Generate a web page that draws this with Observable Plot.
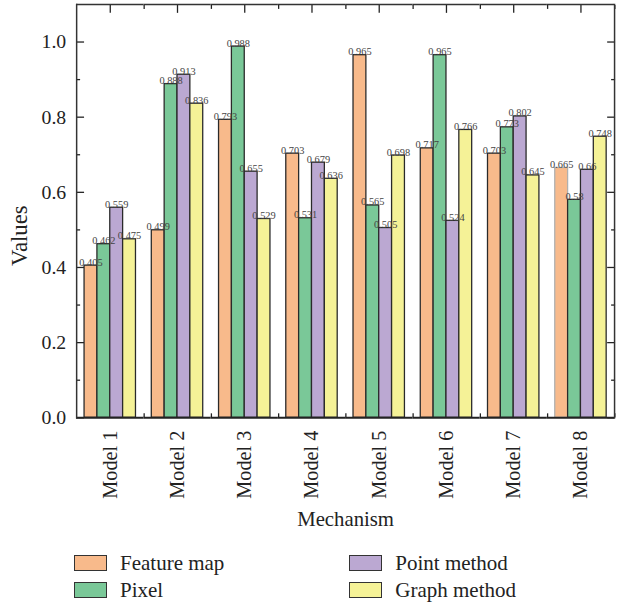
<!DOCTYPE html>
<html>
<head>
<meta charset="utf-8">
<script src="https://cdn.jsdelivr.net/npm/d3@7"></script>
<script src="https://cdn.jsdelivr.net/npm/@observablehq/plot@0.6"></script>
<style>
  html, body { margin: 0; padding: 0; background: #fff; overflow: hidden; }
  #chart { width: 621px; overflow: hidden; }
  #legend {
    display: grid;
    grid-template-rows: 26.7px 26.7px;
    grid-auto-flow: column;
    grid-template-columns: 275.3px 250px;
    padding-left: 74px;
    padding-top: 16px;
    font-family: "Liberation Serif", serif;
    font-size: 21px;
    color: #222;
  }
  .item { display: flex; align-items: center; height: 26.7px; }
  .sw { box-sizing: border-box; width: 32.7px; height: 15.7px; border: 1.5px solid #333; margin-right: 13.3px; }
</style>
</head>
<body>
<div id="chart"></div>
<script>
const models = ["Model 1", "Model 2", "Model 3", "Model 4", "Model 5", "Model 6", "Model 7", "Model 8"];
const series = ["Feature map", "Pixel", "Point method", "Graph method"];
const featureMap = [0.405, 0.499, 0.793, 0.703, 0.965, 0.717, 0.703, 0.665];
const pixel = [0.462, 0.888, 0.988, 0.531, 0.565, 0.965, 0.773, 0.58];
const pointMethod = [0.559, 0.913, 0.655, 0.679, 0.505, 0.524, 0.802, 0.66];
const graphMethod = [0.475, 0.836, 0.529, 0.636, 0.698, 0.766, 0.645, 0.748];
const colors = ["#F8BA8B", "#7AC898", "#BBA8D2", "#F5F297"];
const yTicks = [0, 0.2, 0.4, 0.6, 0.8, 1.0];
const yMinorTicks = [0.1, 0.3, 0.5, 0.7, 0.9];
const yLabel = "Values";
const xLabel = "Mechanism";

const seriesValues = [featureMap, pixel, pointMethod, graphMethod];
const rows = models.flatMap((m, i) => series.map((s, j) => ({model: m, series: s, value: seriesValues[j][i]})));

const width = 628, height = 540;
const marginLeft = 75, marginRight = 4.5, marginTop = 4, marginBottom = 118;
const halfStep = (width - marginLeft - marginRight) / models.length / 2;
const blank = () => "";

const chart = Plot.plot({
  width, height, marginLeft, marginRight, marginTop, marginBottom,
  style: {fontFamily: "'Liberation Serif', serif", fontSize: "20px", color: "#222", background: "#fff", overflow: "visible"},
  fx: {domain: models, padding: 0},
  x: {domain: series, paddingInner: 0, paddingOuter: 0.5, axis: null},
  y: {domain: [0, 1.1]},
  color: {domain: series, range: colors},
  marks: [
    Plot.axisFx({anchor: "bottom", tickSize: 0, tickPadding: 13, tickRotate: -90, label: null, fontSize: 20.5}),
    Plot.axisFx({anchor: "bottom", tickSize: 0, tickFormat: blank, label: xLabel, labelAnchor: "center", labelOffset: 109, fontSize: 21}),
    Plot.axisFx({anchor: "top", tickSize: -8, tickFormat: blank, label: null, strokeWidth: 1.3}),
    Plot.axisFx({anchor: "top", tickSize: -4, tickFormat: blank, label: null, dx: halfStep, strokeWidth: 1.3}),
    Plot.axisFx({anchor: "bottom", tickSize: -4, tickFormat: blank, label: null, dx: halfStep, strokeWidth: 1.3}),
    Plot.axisY({anchor: "left", ticks: yTicks, tickSize: 0, tickPadding: 10.5, tickFormat: d3.format(".1f"), label: null}),
    Plot.axisY({anchor: "left", ticks: yTicks, tickSize: -8, tickFormat: blank, label: null, strokeWidth: 1.3}),
    Plot.axisY({anchor: "left", ticks: yMinorTicks, tickSize: -4, tickFormat: blank, label: null, strokeWidth: 1.3}),
    Plot.axisY({anchor: "right", ticks: yTicks, tickSize: -8, tickFormat: blank, label: null, strokeWidth: 1.3}),
    Plot.axisY({anchor: "right", ticks: yMinorTicks, tickSize: -4, tickFormat: blank, label: null, strokeWidth: 1.3}),
    Plot.barY(rows, {
      fx: "model", x: "series", y: "value", fill: "series",
      stroke: d => (d.model === "Model 8" && d.series === "Feature map") ? "#b0b0b0" : "#2a2a2a",
      strokeWidth: 1.3
    }),
    Plot.text(rows, {
      fx: "model", x: "series", y: "value", text: d => String(d.value),
      lineAnchor: "bottom", fontSize: 10.5, fill: "#444"
    }),
    Plot.text([yLabel], {text: d => d, frameAnchor: "left", facetAnchor: "left", rotate: -90, dx: -58, dy: 55.5, fontSize: 23, fill: "#222"}),
    Plot.ruleY([0], {strokeWidth: 2, stroke: "#222"}),
    Plot.ruleY([1.1], {strokeWidth: 1.5, stroke: "#333"}),
    Plot.frame({anchor: "left", facetAnchor: "left", strokeWidth: 1.5, stroke: "#333"}),
    Plot.frame({anchor: "right", facetAnchor: "right", strokeWidth: 1.5, stroke: "#333"})
  ]
});
document.getElementById("chart").appendChild(chart);

const legend = document.createElement("div");
legend.id = "legend";
series.forEach((s, i) => {
  const item = document.createElement("div");
  item.className = "item";
  const sw = document.createElement("span");
  sw.className = "sw";
  sw.style.background = colors[i];
  const label = document.createElement("span");
  label.textContent = s;
  item.appendChild(sw);
  item.appendChild(label);
  legend.appendChild(item);
});
document.getElementById("chart").appendChild(legend);
</script>
</body>
</html>
